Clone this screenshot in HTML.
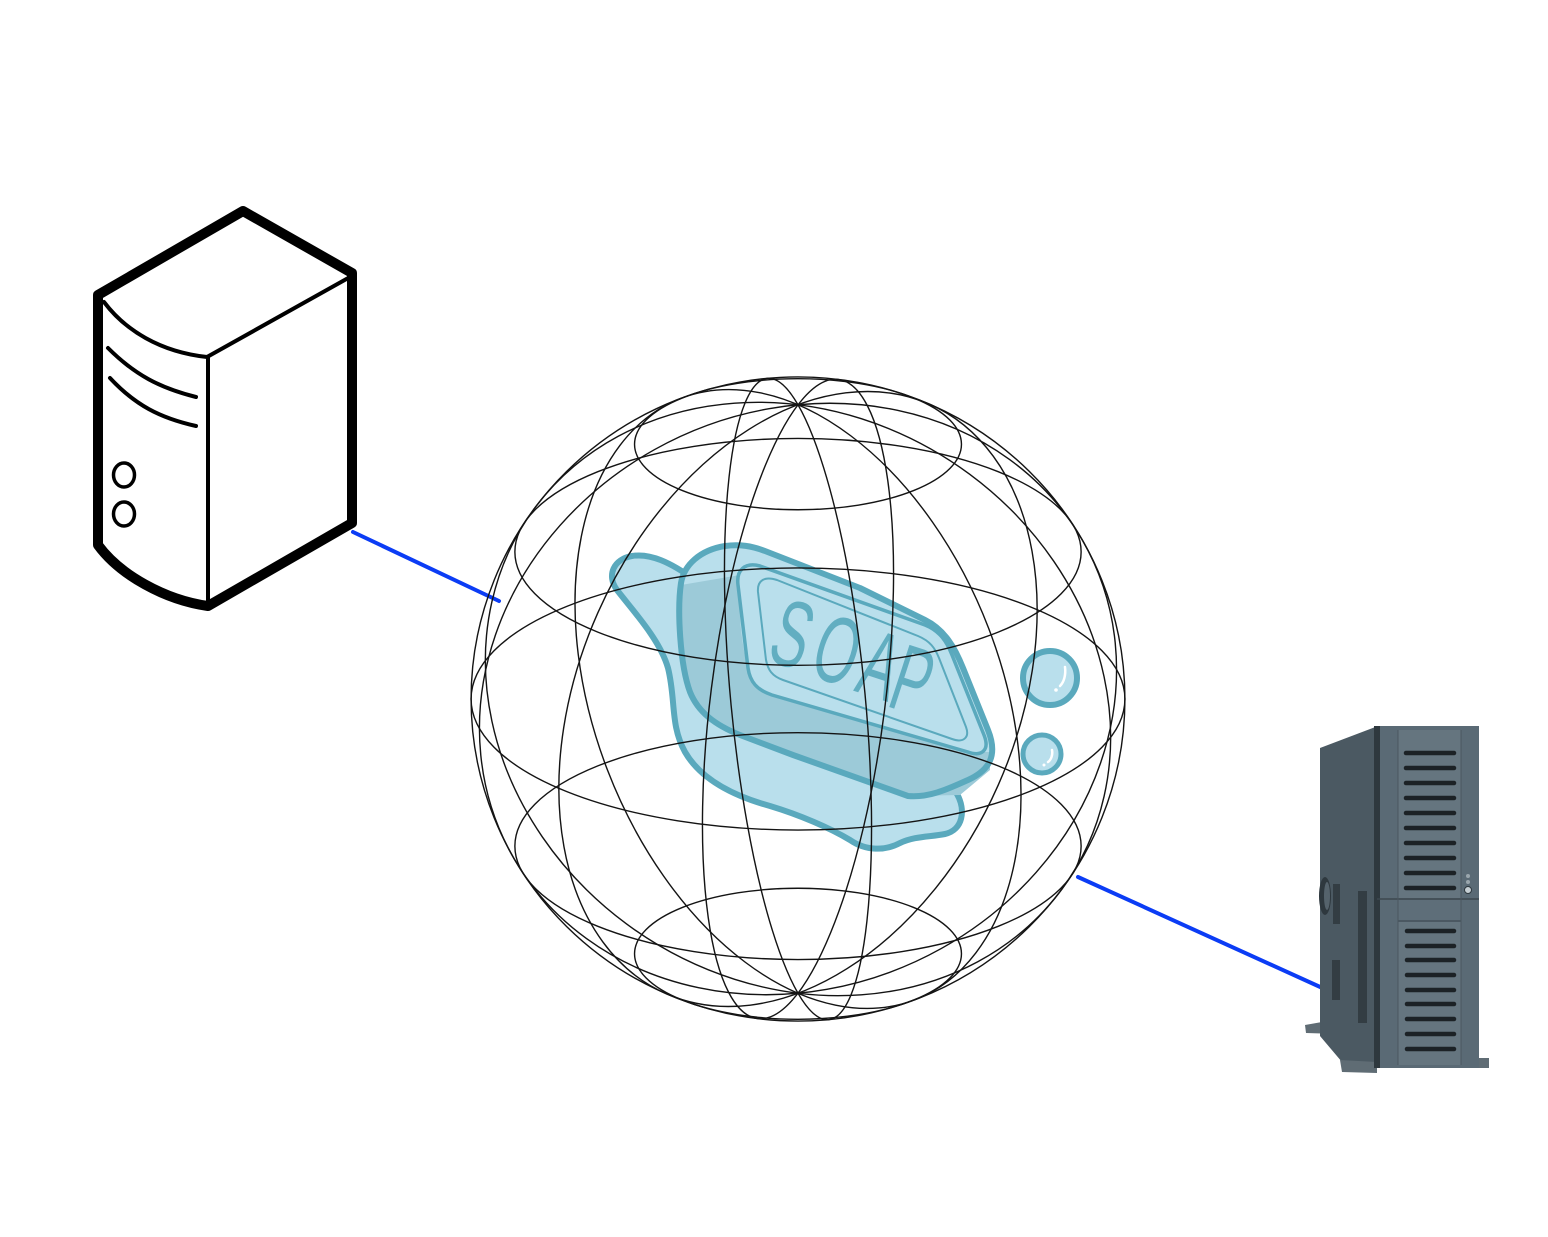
<!DOCTYPE html>
<html>
<head>
<meta charset="utf-8">
<style>
  html,body{margin:0;padding:0;background:#fff;}
  svg{display:block;}
</style>
</head>
<body>
<svg width="1548" height="1237" viewBox="0 0 1548 1237" xmlns="http://www.w3.org/2000/svg">
  <rect width="1548" height="1237" fill="#ffffff"/>

  <!-- Blue connectors -->
  <line x1="353" y1="532" x2="499" y2="601" stroke="#0b3cf5" stroke-width="4" stroke-linecap="round"/>
  <line x1="1078" y1="877" x2="1329" y2="991" stroke="#0b3cf5" stroke-width="4" stroke-linecap="round"/>

  <!-- Left server (outline icon) -->
  <g fill="none" stroke="#000" stroke-linejoin="round" stroke-linecap="round">
    <path d="M243,211 L352,273 L352,523 L208,606 C165,600 120,575 98,545 L98,295 Z" fill="#fff" stroke-width="10"/>
    <path d="M104,302 C125,330 160,352 207,357 L350,277" stroke-width="4"/>
    <path d="M208,357 L208,603" stroke-width="4"/>
    <path d="M108,348 C135,375 160,388 196,397" stroke-width="4"/>
    <path d="M110,378 C135,405 160,418 196,426" stroke-width="4"/>
    <ellipse cx="124" cy="475" rx="10.5" ry="12" stroke-width="3.5"/>
    <ellipse cx="124" cy="514" rx="10.5" ry="12" stroke-width="3.5"/>
  </g>

  <!-- Right server (tower) -->
  <g>
    <path d="M1305,1025 L1322,1022 L1338,1029 L1338,1034 L1306,1033 Z" fill="#5f6c74"/>
    <path d="M1320,748 L1378,726 L1378,1068 L1342,1062 L1320,1036 Z" fill="#4b5962"/>
    <path d="M1340,1060 L1377,1062 L1377,1073 L1342,1072 Z" fill="#5f6c74"/>
    <rect x="1479" y="1058" width="10" height="10" fill="#5f6c74"/>
    <rect x="1377" y="726" width="102" height="342" fill="#5a6a75"/>
    <rect x="1374" y="726" width="6" height="342" fill="#2e383e"/>
    <rect x="1398" y="730" width="63" height="168" fill="#65757f"/>
    <rect x="1398" y="900" width="63" height="20" fill="#5e6e79"/>
    <rect x="1398" y="922" width="63" height="143" fill="#65757f"/>
    <line x1="1377" y1="899" x2="1479" y2="899" stroke="#3c474e" stroke-width="1.5"/>
    <line x1="1398" y1="921" x2="1461" y2="921" stroke="#3c474e" stroke-width="1"/>
    <line x1="1461" y1="730" x2="1461" y2="1065" stroke="#4a5760" stroke-width="1"/>
    <line x1="1398" y1="730" x2="1398" y2="1065" stroke="#4a5760" stroke-width="1"/>
    <g stroke="#1c2226" stroke-width="4.5" stroke-linecap="round">
      <line x1="1406" y1="753" x2="1454" y2="753"/>
      <line x1="1406" y1="768" x2="1454" y2="768"/>
      <line x1="1406" y1="783" x2="1454" y2="783"/>
      <line x1="1406" y1="798" x2="1454" y2="798"/>
      <line x1="1406" y1="813" x2="1454" y2="813"/>
      <line x1="1406" y1="828" x2="1454" y2="828"/>
      <line x1="1406" y1="843" x2="1454" y2="843"/>
      <line x1="1406" y1="858" x2="1454" y2="858"/>
      <line x1="1406" y1="873" x2="1454" y2="873"/>
      <line x1="1406" y1="888" x2="1454" y2="888"/>
      <line x1="1407" y1="931" x2="1454" y2="931"/>
      <line x1="1407" y1="946" x2="1454" y2="946"/>
      <line x1="1407" y1="960" x2="1454" y2="960"/>
      <line x1="1407" y1="975" x2="1454" y2="975"/>
      <line x1="1407" y1="990" x2="1454" y2="990"/>
      <line x1="1407" y1="1004" x2="1454" y2="1004"/>
      <line x1="1407" y1="1019" x2="1454" y2="1019"/>
      <line x1="1407" y1="1034" x2="1454" y2="1034"/>
      <line x1="1407" y1="1049" x2="1454" y2="1049"/>
    </g>
    <circle cx="1468" cy="876" r="2" fill="#9aa6ad"/>
    <circle cx="1468" cy="882" r="2" fill="#9aa6ad"/>
    <circle cx="1468" cy="890" r="3.5" fill="#c5ced3" stroke="#2e383e" stroke-width="1"/>
    <ellipse cx="1325" cy="896" rx="6" ry="19" fill="#2e383e"/>
    <ellipse cx="1327" cy="896" rx="3" ry="14" fill="#55636c"/>
    <rect x="1333" y="884" width="7" height="40" fill="#333d43"/>
    <rect x="1358" y="891" width="9" height="132" fill="#333d43"/>
    <rect x="1332" y="960" width="8" height="40" fill="#333d43"/>
  </g>

  <!-- SOAP illustration -->
  <g stroke="#5aa9bd" stroke-linejoin="round" stroke-linecap="round">
    <!-- puddle -->
    <path d="M695,580 C670,562 650,553 632,556 C614,559 606,575 617,590 C634,612 660,640 668,668 C676,700 670,725 685,752 C700,778 730,795 770,806 C800,815 830,828 850,840 C866,851 885,851 900,843 C915,836 930,837 945,834 C963,830 966,810 957,794 L930,760 L800,650 Z" fill="#b9dfec" stroke-width="6"/>
    <!-- body fill (light) -->
    <path d="M681,583 C684,565 700,550 725,546 C740,544 752,546 765,551 L860,588 L925,620 C945,630 955,648 963,668 L988,730 C998,755 990,770 968,780 C950,788 930,798 908,796 L793,755 L740,735 C715,725 698,712 690,692 C680,665 677,610 681,583 Z" fill="#b9dfec" stroke="none"/>
    <!-- darker side region -->
    <path d="M681,585 L740,575 C738,600 740,640 748,668 C752,683 760,692 772,695 L968,752 L990,752 L990,770 L960,795 L908,796 L793,755 L740,735 C715,725 698,712 690,692 C680,665 677,610 681,585 Z" fill="#9ccad8" stroke="none"/>
    <!-- body outline -->
    <path d="M681,583 C684,565 700,550 725,546 C740,544 752,546 765,551 L860,588 L925,620 C945,630 955,648 963,668 L988,730 C998,755 990,770 968,780 C950,788 930,798 908,796 L793,755 L740,735 C715,725 698,712 690,692 C680,665 677,610 681,583 Z" fill="none" stroke-width="6"/>
    <!-- top face -->
    <path d="M738,585 C736,570 745,562 760,566 L925,625 C940,631 947,642 952,655 L984,735 C990,750 982,757 968,752 L772,695 C757,690 750,682 748,668 Z" fill="none" stroke-width="3.5"/>
    <!-- bevel -->
    <path d="M758,592 C757,580 765,576 777,580 L918,636 C930,641 935,648 939,658 L966,727 C970,738 963,743 952,739 L783,680 C772,676 768,670 766,660 Z" fill="none" stroke-width="2"/>
    <circle cx="1050" cy="678" r="27" fill="#b9dfec" stroke-width="6"/>
    <circle cx="1042" cy="754" r="19" fill="#b9dfec" stroke-width="5"/>
  </g>
  <g font-family="Liberation Sans, sans-serif" font-size="95" fill="#62aec1" text-anchor="middle">
    <text transform="translate(793,633) rotate(18) scale(0.58,1)" y="34">S</text>
    <text transform="translate(838,649) rotate(18) scale(0.58,1)" y="34">O</text>
    <text transform="translate(881,664) rotate(18) scale(0.58,1)" y="34">A</text>
    <text transform="translate(913,679) rotate(18) scale(0.58,1)" y="34">P</text>
  </g>
  <g stroke="#fff" stroke-width="2.5" stroke-linecap="round" fill="none">
    <path d="M1065,667 C1066,675 1064,682 1060,686"/>
    <path d="M1052,750 C1053,755 1051,760 1048,762"/>
  </g>
  <circle cx="1056" cy="690" r="1.8" fill="#fff"/>
  <circle cx="1044" cy="765" r="1.5" fill="#fff"/>

  <!-- Wireframe globe -->
  <g transform="translate(798,699) scale(1.009,0.994)" fill="none" stroke="#141414" stroke-width="1.4">
    <circle r="324"/>
    <ellipse rx="324" ry="131.8"/>
    <ellipse cy="-148" rx="280.6" ry="114.1"/>
    <ellipse cy="148" rx="280.6" ry="114.1"/>
    <ellipse cy="-256.3" rx="162" ry="65.9"/>
    <ellipse cy="256.3" rx="162" ry="65.9"/>
    <ellipse rx="66.6" ry="324" transform="rotate(-5.36)"/>
    <ellipse rx="201.9" ry="324" transform="rotate(-20.77)"/>
    <ellipse rx="283.0" ry="324" transform="rotate(-53.06)"/>
    <ellipse rx="288.4" ry="324" transform="rotate(60.42)"/>
    <ellipse rx="216.5" ry="324" transform="rotate(23.57)"/>
    <ellipse rx="86.5" ry="324" transform="rotate(7.09)"/>
  </g>
</svg>
</body>
</html>
